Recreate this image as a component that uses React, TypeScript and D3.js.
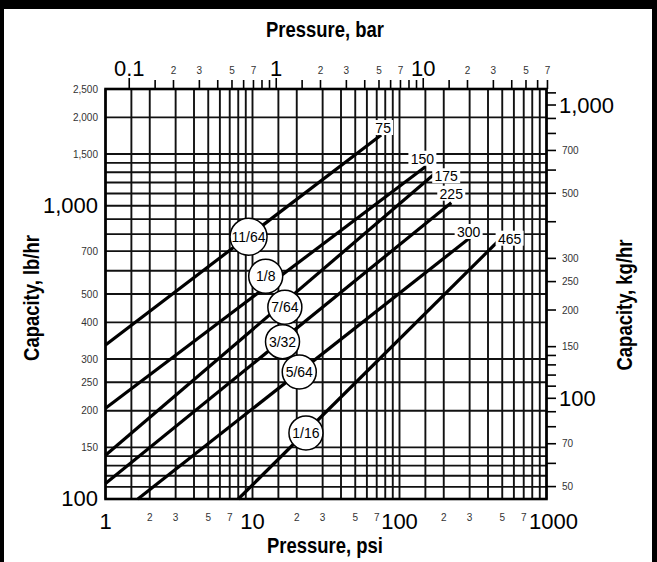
import React from "react";
import * as d3 from "d3";

// grid values
const psiMantissas = [1, 1.5, 2, 3, 4, 5, 6, 7, 8, 9];
const psiDecades = [1, 10, 100];
const lbGrid = [100, 110, 120, 130, 140, 150, 200, 250, 300, 400, 500, 600, 700, 800, 900, 1000, 1100, 1200, 1300, 1400, 1500, 2000, 2500];

// axis labels
const psiLabels = [
  { v: 1, t: "1", big: true }, { v: 2, t: "2" }, { v: 3, t: "3" }, { v: 5, t: "5" }, { v: 7, t: "7" },
  { v: 10, t: "10", big: true }, { v: 20, t: "2" }, { v: 30, t: "3" }, { v: 50, t: "5" }, { v: 70, t: "7" },
  { v: 100, t: "100", big: true }, { v: 200, t: "2" }, { v: 300, t: "3" }, { v: 500, t: "5" }, { v: 700, t: "7" },
  { v: 1000, t: "1000", big: true },
];
const barTicks = [0.1, 0.15, 0.2, 0.3, 0.4, 0.5, 0.6, 0.7, 0.8, 0.9, 1, 1.5, 2, 3, 4, 5, 6, 7, 8, 9, 10, 15, 20, 30, 40, 50, 60, 70];
const barLabels = [
  { v: 0.1, t: "0.1", big: true }, { v: 0.2, t: "2" }, { v: 0.3, t: "3" }, { v: 0.5, t: "5" }, { v: 0.7, t: "7" },
  { v: 1, t: "1", big: true }, { v: 2, t: "2" }, { v: 3, t: "3" }, { v: 5, t: "5" }, { v: 7, t: "7" },
  { v: 10, t: "10", big: true }, { v: 20, t: "2" }, { v: 30, t: "3" }, { v: 50, t: "5" }, { v: 70, t: "7" },
];
const lbLabels = [
  { v: 2500, t: "2,500" }, { v: 2000, t: "2,000" }, { v: 1500, t: "1,500" }, { v: 1000, t: "1,000", big: true },
  { v: 700, t: "700" }, { v: 500, t: "500" }, { v: 400, t: "400" }, { v: 300, t: "300" }, { v: 250, t: "250" },
  { v: 200, t: "200" }, { v: 150, t: "150" }, { v: 100, t: "100", big: true },
];
const kgTicks = [1100, 1000, 900, 800, 700, 600, 500, 400, 300, 250, 200, 150, 140, 130, 120, 110, 100, 90, 80, 70, 60, 50];
const kgLabels = [
  { v: 1000, t: "1,000", big: true }, { v: 700, t: "700" }, { v: 500, t: "500" }, { v: 300, t: "300" },
  { v: 250, t: "250" }, { v: 200, t: "200" }, { v: 150, t: "150" }, { v: 100, t: "100", big: true },
  { v: 70, t: "70" }, { v: 50, t: "50" },
];

// capacity lines (psi, lb/hr)
const maxPressure = ["75", "150", "175", "225", "300", "465"];
const orifice = ["11/64", "1/8", "7/64", "3/32", "5/64", "1/16"];
const startPsi = [1, 1, 1, 1, 1.66, 8.0];
const startLb = [335, 204, 141, 113, 100, 100];
const endPsi = [75, 150, 175, 225, 300, 465];
const endLb = [1742, 1358, 1290, 1024, 776, 754];
const circlePsi = [9.4, 12.3, 16.6, 16.0, 20.8, 23.1];
const circleLb = [784, 575, 451, 344, 271, 168];

const LB_PER_KG = 2.20462;
const PSI_PER_BAR = 14.5038;

const W = 657;
const H = 562;
const FONT = "'Liberation Sans', Arial, Helvetica, sans-serif";

// label offset relative to line end (layout only)
const labelOff = [[2, -7], [-3, -8], [11, 3], [0, -9], [-1, -6], [12, -3]];

const Title = ({ x, y, rot, text }: { x: number; y: number; rot?: number; text: string }) => (
  <g transform={`translate(${x},${y}) rotate(${rot ?? 0}) scale(0.84,1)`}>
    <text x={0} y={0} textAnchor="middle" fontSize={22} fontWeight="bold">{text}</text>
  </g>
);

export default function App() {
  const x = d3.scaleLog().domain([1, 1000]).range([105.5, 546.5]);
  const y = d3.scaleLog().domain([100, 2500]).range([499, 89]);

  const psiGrid: number[] = [];
  psiDecades.forEach((d) => psiMantissas.forEach((m) => psiGrid.push(m * d)));
  psiGrid.push(1000);

  const lineGen = d3
    .line<[number, number]>()
    .x((d) => x(d[0]))
    .y((d) => y(d[1]));

  const grid = "#111";
  const small = "#333";

  return (
    <svg width={W} height={H} style={{ position: "absolute", left: 0, top: 0, background: "#fff" }} fontFamily={FONT}>
      <rect x={0} y={0} width={W} height={H} fill="#fff" />
      {/* black header / frame */}
      <rect x={0} y={0} width={W} height={9} fill="#000" />
      <rect x={0} y={0} width={4} height={H} fill="#000" />
      <rect x={W - 5} y={0} width={5} height={H} fill="#000" />

      {/* titles */}
      <Title x={325} y={37} text="Pressure, bar" />
      <Title x={325} y={553} text="Pressure, psi" />
      <Title x={39} y={298} rot={-90} text="Capacity, lb/hr" />
      <Title x={632} y={305} rot={-90} text="Capacity, kg/hr" />

      {/* grid */}
      <g stroke={grid} strokeWidth={1.9}>
        {psiGrid.map((p, i) => (
          <line key={"v" + i} x1={x(p)} x2={x(p)} y1={y(100)} y2={y(2500)} />
        ))}
        {lbGrid.map((v, i) => (
          <line key={"h" + i} x1={x(1)} x2={x(1000)} y1={y(v)} y2={y(v)} />
        ))}
      </g>
      <rect x={x(1)} y={y(2500)} width={x(1000) - x(1)} height={y(100) - y(2500)} fill="none" stroke="#000" strokeWidth={2.6} />

      {/* top bar axis */}
      <g stroke="#000" strokeWidth={1.6}>
        {barTicks.map((b, i) => {
          const big = b === 0.1 || b === 1 || b === 10;
          return <line key={i} x1={x(b * PSI_PER_BAR)} x2={x(b * PSI_PER_BAR)} y1={89} y2={big ? 78 : 80} />;
        })}
      </g>
      {barLabels.map((l, i) => (
        <text key={i} x={x(l.v * PSI_PER_BAR)} y={l.big ? 76 : 74} textAnchor="middle" fontSize={l.big ? 22 : 10} fill={l.big ? "#000" : small}>
          {l.t}
        </text>
      ))}

      {/* bottom psi labels */}
      {psiLabels.map((l, i) => (
        <text
          key={i}
          x={x(l.v) + (l.v === 1000 ? 7 : 0)}
          y={l.big ? 529 : 521}
          textAnchor="middle"
          fontSize={l.big ? 22 : 10}
          fill={l.big ? "#000" : small}
        >
          {l.t}
        </text>
      ))}

      {/* left lb/hr labels */}
      {lbLabels.map((l, i) => (
        <text key={i} x={98} y={y(l.v)} dy={l.big ? 7 : 3.5} textAnchor="end" fontSize={l.big ? 22 : 10} fill={l.big ? "#000" : small}>
          {l.t}
        </text>
      ))}

      {/* right kg/hr axis */}
      <g stroke="#000" strokeWidth={1.6}>
        {kgTicks.map((k, i) => (
          <line key={i} x1={546.5} x2={556} y1={y(k * LB_PER_KG)} y2={y(k * LB_PER_KG)} />
        ))}
      </g>
      {kgLabels.map((l, i) => (
        <text
          key={i}
          x={l.big ? 559 : 562}
          y={y(l.v * LB_PER_KG)}
          dy={l.big ? 7.5 : 3.5}
          textAnchor="start"
          fontSize={l.big ? 22 : 10}
          fill={l.big ? "#000" : small}
        >
          {l.t}
        </text>
      ))}

      {/* capacity lines */}
      {maxPressure.map((mp, i) => (
        <path
          key={"l" + i}
          d={lineGen([[startPsi[i], startLb[i]], [endPsi[i], endLb[i]]]) ?? ""}
          fill="none"
          stroke="#000"
          strokeWidth={3.2}
        />
      ))}

      {/* max pressure labels */}
      {maxPressure.map((mp, i) => {
        const cx = x(endPsi[i]) + labelOff[i][0];
        const cy = y(endLb[i]) + labelOff[i][1];
        const w = mp.length * 8 + 4;
        return (
          <g key={"p" + i}>
            <rect x={cx - w / 2} y={cy - 8} width={w} height={15} fill="#fff" />
            <text x={cx} y={cy} dy={5} textAnchor="middle" fontSize={14}>{mp}</text>
          </g>
        );
      })}

      {/* orifice circles */}
      {orifice.map((o, i) => {
        const cx = x(circlePsi[i]);
        const cy = y(circleLb[i]);
        return (
          <g key={"c" + i}>
            <circle cx={cx} cy={cy} r={i === 0 ? 18.5 : 17} fill="#fff" stroke="#000" strokeWidth={1.5} />
            <text x={cx} y={cy} dy={5} textAnchor="middle" fontSize={14}>{o}</text>
          </g>
        );
      })}
    </svg>
  );
}
